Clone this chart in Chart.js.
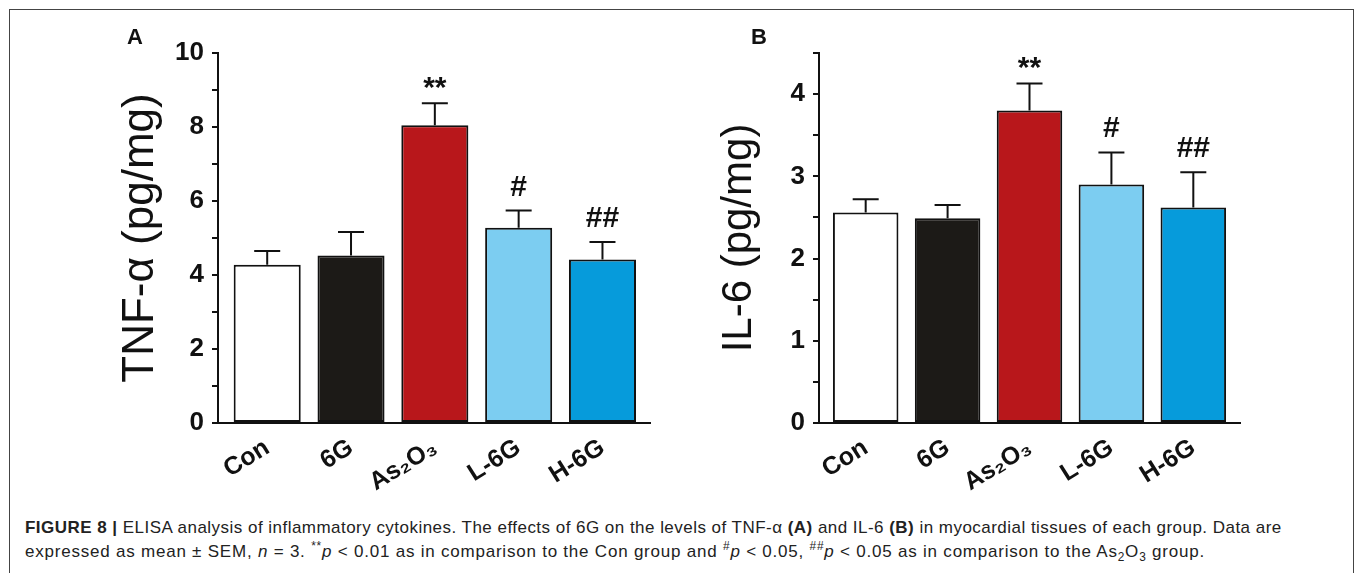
<!DOCTYPE html>
<html>
<head>
<meta charset="utf-8">
<script src="https://cdn.jsdelivr.net/npm/chart.js@4.4.0/dist/chart.umd.min.js"></script>
<style>
  body { margin: 0; background: #fff; width: 1355px; height: 573px; overflow: hidden; position: relative;
         font-family: "Liberation Sans", Arial, sans-serif; }
  #frame { position: absolute; left: 9px; top: 9px; width: 1343px; height: 640px; border: 1px solid #444; }
  .panel { position: absolute; top: 0; }
  .letter { position: absolute; top: 26px; font-size: 22px; line-height: 22px; font-weight: bold; color: #111; }
  .caption { position: absolute; left: 25px; font-size: 17px; line-height: 24px; color: #222; white-space: nowrap; }
  .caption sup, .caption sub { font-size: 0.7em; line-height: 0; }
</style>
</head>
<body>
<div id="frame"></div>
<div class="panel" style="left:0px"><canvas id="chartA" width="680" height="500"></canvas></div>
<div class="panel" style="left:680px"><canvas id="chartB" width="600" height="500"></canvas></div>
<div class="letter" style="left:127px">A</div>
<div class="letter" style="left:751px">B</div>
<div class="caption" style="top:516px; letter-spacing:0.47px"><b>FIGURE 8 |</b> ELISA analysis of inflammatory cytokines. The effects of 6G on the levels of TNF-α <b>(A)</b> and IL-6 <b>(B)</b> in myocardial tissues of each group. Data are</div>
<div class="caption" style="top:540px; letter-spacing:0.78px">expressed as mean ± SEM, <i>n</i> = 3. <sup>**</sup><i>p</i> &lt; 0.01 as in comparison to the Con group and <sup>#</sup><i>p</i> &lt; 0.05, <sup>##</sup><i>p</i> &lt; 0.05 as in comparison to the As<sub>2</sub>O<sub>3</sub> group.</div>

<script>
// grupos y valores (media y SEM)
var grupos = ['Con', '6G', 'As₂O₃', 'L-6G', 'H-6G'];
var tnfMedia = [4.28, 4.53, 8.05, 5.28, 4.42];
var tnfSem = [0.37, 0.63, 0.59, 0.46, 0.47];
var il6Media = [2.56, 2.49, 3.80, 2.90, 2.62];
var il6Sem = [0.16, 0.16, 0.33, 0.39, 0.43];
var marcas = ['', '', '**', '#', '##'];
var colores = ['#ffffff', '#1c1a17', '#b8171b', '#7ccdf1', '#069bdb'];

// barras de error (solo hacia arriba) y marcas de significancia
var errorBars = {
    id: 'errorBars',
    afterDatasetsDraw: function(chart) {
        var meta = chart.getDatasetMeta(0);
        var y = chart.scales.y;
        var sems = chart.options.plugins.errorBars.sems;
        var medias = chart.data.datasets[0].data;
        var ctx = chart.ctx;
        ctx.save();
        ctx.strokeStyle = '#111';
        ctx.lineWidth = 2;
        ctx.fillStyle = '#111';
        ctx.font = 'bold 30px "Liberation Sans", Arial, sans-serif';
        ctx.textAlign = 'center';
        ctx.textBaseline = 'alphabetic';
        for (var i = 0; i < meta.data.length; i++) {
            var bar = meta.data[i];
            var yTop = y.getPixelForValue(medias[i].y + sems[i]);
            ctx.beginPath();
            ctx.moveTo(bar.x, bar.y);
            ctx.lineTo(bar.x, yTop);
            ctx.moveTo(bar.x - 13, yTop);
            ctx.lineTo(bar.x + 13, yTop);
            ctx.stroke();
            if (marcas[i]) {
                var off = marcas[i].indexOf('*') >= 0 ? 6 : 15;
                ctx.fillText(marcas[i], bar.x, yTop - off);
            }
        }
        ctx.restore();
    }
};

function crearGrafica(id, medias, sems, opts) {
    var ctx = document.getElementById(id).getContext('2d');
    var datos = medias.map(function(v, i) { return { x: i, y: v }; });
    return new Chart(ctx, {
        type: 'bar',
        data: {
            datasets: [{
                data: datos,
                backgroundColor: colores,
                borderColor: '#111',
                borderWidth: 2,
                borderSkipped: false,
                categoryPercentage: 1,
                barPercentage: 0.8
            }]
        },
        plugins: [errorBars],
        options: {
            responsive: false,
            animation: false,
            layout: { padding: { left: 0, top: 53, right: opts.derecha, bottom: 0 } },
            plugins: {
                legend: { display: false },
                tooltip: { enabled: false },
                errorBars: { sems: sems }
            },
            scales: {
                x: {
                    type: 'linear',
                    offset: false,
                    min: opts.xMin,
                    max: opts.xMax,
                    grid: { display: false, offset: false },
                    border: { display: true, color: '#111', width: 2 },
                    ticks: {
                        stepSize: 1,
                        includeBounds: false,
                        autoSkip: false,
                        minRotation: 32,
                        maxRotation: 32,
                        padding: 2,
                        color: '#111',
                        font: { family: '"Liberation Sans", Arial, sans-serif', size: 25, weight: 'bold' },
                        callback: function(v) { return (Number.isInteger(v) && v >= 0 && v < grupos.length) ? grupos[v] : ''; }
                    },
                    afterFit: function(s) { s.height = 500 - 423; }
                },
                y: {
                    min: 0,
                    max: opts.yMax,
                    grid: { display: true, drawOnChartArea: false, drawTicks: true, tickLength: 6, color: '#111', lineWidth: 2 },
                    border: { display: true, color: '#111', width: 2 },
                    ticks: {
                        stepSize: opts.paso,
                        autoSkip: false,
                        padding: 8,
                        color: '#111',
                        font: { family: '"Liberation Sans", Arial, sans-serif', size: 26, weight: 'bold' },
                        callback: function(v) { return Math.abs(v % opts.cadaEtiqueta) < 1e-9 ? v : ''; }
                    },
                    title: {
                        display: true,
                        text: opts.titulo,
                        color: '#111',
                        padding: { top: opts.tituloPad, bottom: 0 },
                        font: { family: '"Liberation Sans", Arial, sans-serif', size: opts.tituloSize, weight: 'normal' }
                    },
                    afterFit: function(s) { s.width = opts.ejeX; }
                }
            }
        }
    });
}

crearGrafica('chartA', tnfMedia, tnfSem, {
    titulo: 'TNF-α (pg/mg)', tituloSize: 44, yMax: 10, paso: 1, cadaEtiqueta: 2,
    xMin: -0.587, xMax: 4.567, ejeX: 218, derecha: 30, tituloPad: 114
});
crearGrafica('chartB', il6Media, il6Sem, {
    titulo: 'IL-6 (pg/mg)', tituloSize: 42, yMax: 4.5, paso: 0.5, cadaEtiqueta: 1,
    xMin: -0.57, xMax: 4.57, ejeX: 139, derecha: 40, tituloPad: 34
});
</script>
</body>
</html>
